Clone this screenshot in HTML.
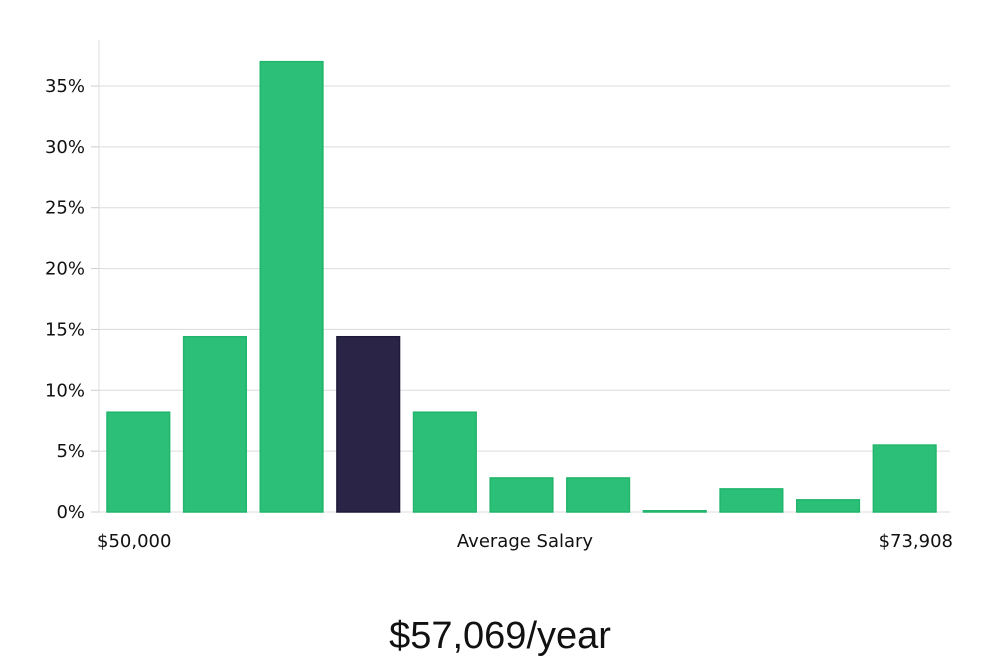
<!DOCTYPE html>
<html><head><meta charset="utf-8"><style>
body{margin:0;background:#fff;width:1000px;height:660px;overflow:hidden}
svg text{font-family:"DejaVu Sans","Liberation Sans",sans-serif;fill:#111}
</style></head><body>
<svg id="chart" width="1000" height="660"></svg>
<script>
const categories=["b1","b2","b3","b4","b5","b6","b7","b8","b9","b10","b11"];
const values=[8.2,14.4,37.0,14.4,8.2,2.8,2.8,0.1,1.9,1.0,5.5];
const highlight=[false,false,false,true,false,false,false,false,false,false,false];
const tickValues=[0,5,10,15,20,25,30,35];
const tickLabels=["0%","5%","10%","15%","20%","25%","30%","35%"];
const NS="http://www.w3.org/2000/svg";
const svg=document.getElementById('chart');
const x0=99,x1=950,y0=512,pxPer=(512-86)/35;
const y=v=>y0-v*pxPer;
const step=(x1-x0-8)/categories.length;
const bx=i=>x0+8+i*step;
function mk(t,a){const e=document.createElementNS(NS,t);for(const k in a)e.setAttribute(k,a[k]);svg.appendChild(e);return e;}
tickValues.forEach((v,i)=>{
  const g=mk('line',{x1:x0,x2:x1,y1:y(v),y2:y(v),stroke:'#dcdcdc','stroke-width':1});
  
  
  const tk=mk('line',{x1:x0-8,x2:x0,y1:y(v),y2:y(v),stroke:'#ccc'});
  
  
  const t=mk('text',{x:85,y:y(v)+6,'text-anchor':'end','font-size':18});
  t.textContent=tickLabels[i];
  
  
});
const ax=mk('line',{x1:x0,x2:x0,y1:40,y2:y0,stroke:'#ddd'});


values.forEach((v,i)=>{
  const h=Math.max(1,v*pxPer);
  const r=mk('rect',{x:bx(i),y:y0-h,width:step-14,height:h,fill:highlight[i]?'#2a2547':'#2bbf78',stroke:highlight[i]?'#1e1a3a':'#22b56c','stroke-width':1.5});
  
  
});
function txt(s,x,yy,anc,fs,name,fam){const t=mk('text',{x:x,y:yy,'text-anchor':anc,'font-size':fs});if(fam)t.style.fontFamily=fam;t.textContent=s;

return t;}
txt('$50,000',97,547,'start',18,'x-min-label');
txt('Average Salary',525,547,'middle',18,'x-axis-title');
txt('$73,908',953,547,'end',18,'x-max-label');
const ttl=txt('$57,069/year',500,648,'middle',38,'average-salary-title','"Liberation Sans",sans-serif');
ttl.setAttribute('font-weight','300');
</script>
</body></html>
